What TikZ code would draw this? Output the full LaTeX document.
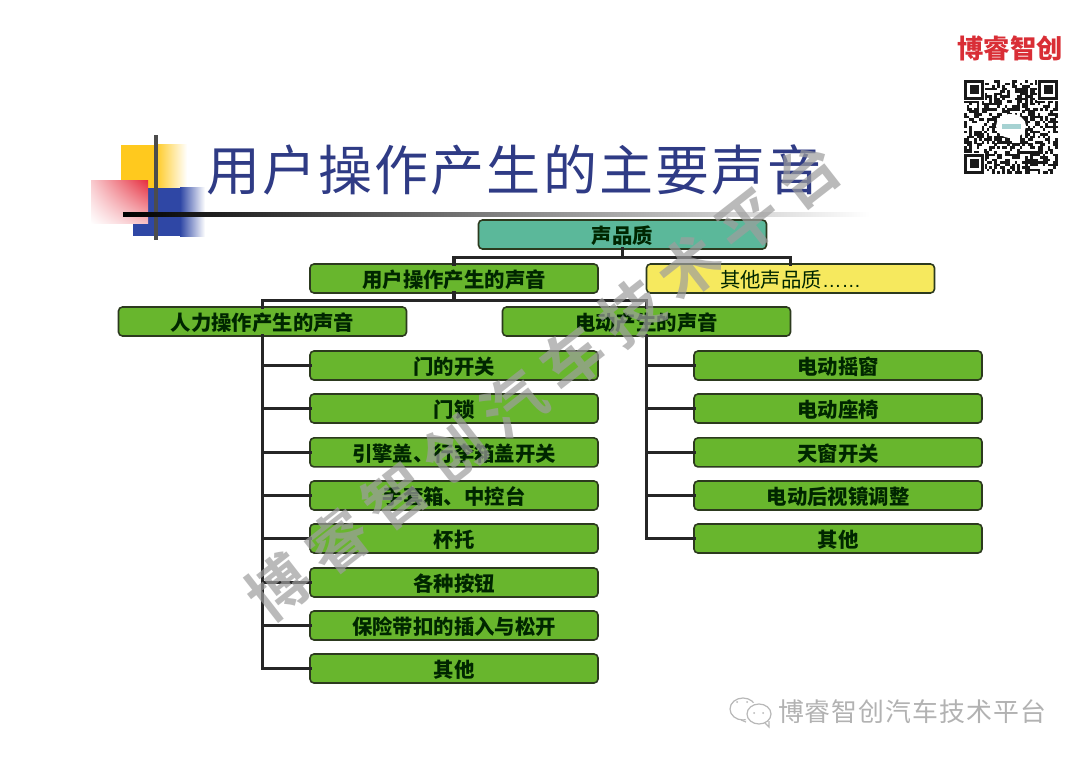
\documentclass[tikz,border=0pt]{standalone}
\usepackage{fontspec}
\usetikzlibrary{calc,shadings}
\setmainfont{Liberation Sans}
\newfontfamily\cjk{Noto Sans CJK SC}
\newfontfamily\cjktitle[LetterSpace=4]{Noto Sans CJK SC}
\newfontfamily\cjkwm[LetterSpace=21.5]{Noto Sans CJK SC Bold}
\newfontfamily\cjkfoot[LetterSpace=4]{Noto Sans CJK SC}
\definecolor{boxgreen}{HTML}{68B62D}
\definecolor{boxteal}{HTML}{5BB89A}
\definecolor{boxyellow}{HTML}{F6E95E}
\definecolor{boxline}{HTML}{2C3A1E}
\definecolor{titleblue}{HTML}{2F3B85}
\definecolor{slideyellow}{HTML}{FFC91E}
\definecolor{slideblue}{HTML}{2F47A5}
\definecolor{slidered}{HTML}{E63040}
\definecolor{brandred}{HTML}{D92E36}
\tikzset{
  box/.style={draw=boxline,line width=1.2pt,rounded corners=3pt,minimum width=216pt,minimum height=21.75pt,
    inner sep=0pt,outer sep=0pt,text height=15pt,text depth=1.9pt,text=black!85!green,font=\cjk\bfseries\fontsize{15.3pt}{18pt}\selectfont},
  greenbox/.style={box,fill=boxgreen},
  link/.style={draw=black!85,line width=2.4pt,line cap=rect}
}
\begin{document}
\begin{tikzpicture}[x=0.75pt,y=-0.75pt]
\useasboundingbox (0,0) rectangle (1080,759);
\fill[white] (0,0) rectangle (1080,759);
% slide ornament
\fill[slideyellow] (121,145) rectangle (155,206);
\shade[left color=slideyellow,right color=white] (155,145) rectangle (187,206);
\fill[slideblue] (148,188) rectangle (180,236);
\fill[slideblue] (133,223) rectangle (148,236);
\shade[left color=slideblue,right color=white] (180,188) rectangle (205,236);
\shade[upper right=slidered,upper left=slidered!25,lower right=slidered!30,lower left=white] (91,181) rectangle (148,224);
\fill[black!70] (154,135) rectangle (158,240);
\shade[left color=black,right color=white] (123,213) rectangle (870,217);
% title
\node (title) at (514,170) {\cjktitle\color{titleblue}\fontsize{40.5pt}{48pt}\selectfont 用户操作产生的主要声音};
% boxes
\node[box,fill=boxteal] (root) at (622.5,234.5) {声品质};
\node[greenbox] (user) at (454,278.5) {用户操作产生的声音};
\node[box,fill=boxyellow,font=\cjk\fontsize{15.3pt}{18pt}\selectfont] (other) at (790.5,278.5) {其他声品质{\rmfamily\fontsize{14.6pt}{16pt}\selectfont ……}};
\node[greenbox] (human) at (262.5,321.5) {人力操作产生的声音};
\node[greenbox] (power) at (646.5,321.5) {电动产生的声音};
\node[greenbox] (la) at (454,365.5) {门的开关};
\node[greenbox] (lb) at (454,408.5) {门锁};
\node[greenbox] (lc) at (454,452.4) {引擎盖、行李箱盖开关};
\node[greenbox] (ld) at (454,495.5) {手套箱、中控台};
\node[greenbox] (le) at (454,538.5) {杯托};
\node[greenbox] (lf) at (454,582.5) {各种按钮};
\node[greenbox] (lg) at (454,625.5) {保险带扣的插入与松开};
\node[greenbox] (lh) at (454,668.5) {其他};
\node[greenbox] (ra) at (838,365.5) {电动摇窗};
\node[greenbox] (rb) at (838,408.5) {电动座椅};
\node[greenbox] (rc) at (838,452.4) {天窗开关};
\node[greenbox] (rd) at (838,495.5) {电动后视镜调整};
\node[greenbox] (re) at (838,538.5) {其他};
% connectors
\draw[link] (root.south) -- ++(0,8.4) -| (user.north);
\draw[link] (root.south) -- ++(0,8.4) -| (other.north);
\draw[link] (user.south) -- ++(0,7.4) -| (human.north);
\draw[link] (user.south) -- ++(0,7.4) -| (power.north);
\foreach \n in {la,lb,lc,ld,le,lf,lg,lh}{\draw[link] (human.south) |- (\n.west);}
\foreach \n in {ra,rb,rc,rd,re}{\draw[link] (power.south) |- (\n.west);}
% brand
\node[text=brandred] (brand) at (1010,48) {\cjk\bfseries\fontsize{19.7pt}{22pt}\selectfont 博睿智创};
% QR code
\pgfmathsetseed{4711}
\foreach \i in {0,...,36}{\foreach \j in {0,...,36}{
  \pgfmathparse{rnd<0.52?1:0}
  \ifnum\pgfmathresult=1
    \fill[black!90] ({964+\i*2.54},{80+\j*2.54}) rectangle ++(2.6,2.6);
  \fi
}}
\fill[white] (963,79) rectangle (985,101);
\fill[white] (1037,79) rectangle (1059,101);
\fill[white] (963,153) rectangle (985,175);
\fill[white] (1011,126) ellipse (15 and 12);
\fill[teal!35] (1002,124) rectangle (1021,129);
\foreach \qx/\qy in {964/80,1038/80,964/154}{
  \draw[black!90,line width=1.9pt] ({\qx+1.3},{\qy+1.3}) rectangle ({\qx+18.7},{\qy+18.7});
  \fill[black!90] ({\qx+5.5},{\qy+5.5}) rectangle ({\qx+14.5},{\qy+14.5});
}
% watermark
\node[rotate=37.9,text=black!38,opacity=.7] (wm) at (542.5,381) {\cjkwm\fontsize{46pt}{50pt}\selectfont 博睿智创汽车技术平台};
% footer
\begin{scope}[draw=black!28,line width=0.9pt,fill=black!28]
\draw (743,709) ellipse (13 and 11);
\draw (746,722) -- (741,720);
\fill[white] (759,714) ellipse (15 and 12);
\draw (759,714) ellipse (12 and 10);
\draw (765,723) -- (769,727) -- (769,721);
\fill (737,702) circle (1);
\fill (747,702) circle (1);
\fill (754,713) circle (1);
\fill (763,713) circle (1);
\end{scope}
\node[text=black!30] (foot) at (912,712) {\cjkfoot\fontsize{19.4pt}{22pt}\selectfont 博睿智创汽车技术平台};
\end{tikzpicture}
\end{document}
